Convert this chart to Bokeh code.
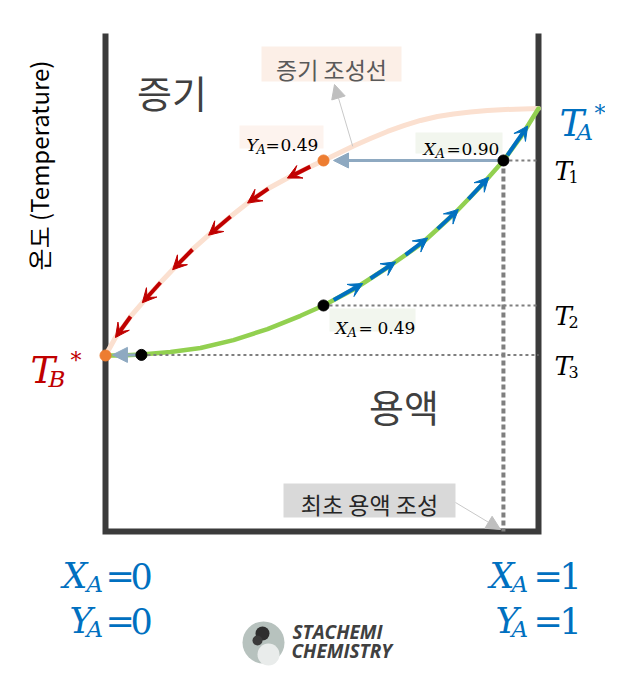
import numpy as np
from bokeh.plotting import figure
from bokeh.models import Range1d, ColumnDataSource, Arrow, VeeHead, NormalHead
from bokeh.core.properties import value
from bokeh.embed import file_html
from bokeh.resources import INLINE

# ---------------- data (composition X_A / Y_A, temperature in arbitrary units) ----------------
T_B_STAR = 60.0
T_A_STAR = 100.0
T1, T2, T3 = 91.58, 68.10, 60.10

# liquid (bubble-point) curve
liq_x = [0.0, 0.0346, 0.0831, 0.1501, 0.2194, 0.2956, 0.3741, 0.4503, 0.5035, 0.5727, 0.6513,
         0.7275, 0.8037, 0.8661, 0.9192, 0.9584, 1.0]
liq_T = [60.0, 60.0, 60.16, 60.57, 61.21, 62.49, 64.28, 66.43, 68.10, 70.69, 74.25,
         77.98, 82.84, 87.37, 91.58, 95.30, 100.0]

# vapour (dew-point) curve
vap_x = [0.0, 0.023, 0.058, 0.0855, 0.127, 0.162, 0.201, 0.2425, 0.289, 0.3326, 0.376, 0.4226,
         0.4688, 0.5035, 0.5727, 0.612, 0.6513, 0.6905, 0.7275, 0.7667, 0.8037, 0.843,
         0.8822, 0.9238, 1.0]
vap_T = [60.0, 62.91, 66.32, 68.58, 71.82, 74.41, 77.17, 79.76, 82.51, 84.94, 87.04, 88.83,
         90.45, 91.58, 93.93, 95.14, 96.28, 97.25, 98.06, 98.70, 99.11, 99.43,
         99.68, 99.84, 100.0]

# marked states
liq_dot_x = [0.919, 0.5035, 0.083]
liq_dot_T = [T1, T2, T3]
vap_dot_x = [0.5035, 0.0]
vap_dot_T = [T1, T_B_STAR]

# direction arrows along the curves (start composition -> tip composition)
red_start = [0.473, 0.376, 0.289, 0.201, 0.127, 0.058]
red_tip = [0.420, 0.328, 0.238, 0.155, 0.085, 0.023]
blue_start = [0.527, 0.612, 0.693, 0.767, 0.838, 0.928]
blue_tip = [0.594, 0.670, 0.744, 0.815, 0.885, 0.975]

# tie-line arrows (liquid -> vapour)
tie_start_x = [0.919, 0.083]
tie_tip_x = [0.5266, 0.016]
tie_T = [T1, T3]

label_x1 = "0.90"
label_x2 = "0.49"
label_y1 = "0.49"

# ---------------- layout ----------------
W, H = 605, 666
PXU_X = 433.0
PXU_Y = 247.0 / 40.0
X0PX, T0PX = 105.0, 355.0
xs = -X0PX / PXU_X
xe = xs + W / PXU_X
ye = T_B_STAR + T0PX / PXU_Y
ys = ye - H / PXU_Y


def X(px):
    return xs + px / PXU_X


def Y(py):
    return ye - py / PXU_Y


T_TOP = Y(33)
T_BOT = Y(531)

p = figure(width=W, height=H, x_range=Range1d(xs, xe), y_range=Range1d(ys, ye),
           output_backend="svg", toolbar_location=None, min_border=0,
           x_axis_location=None, y_axis_location=None, outline_line_color=None,
           background_fill_color="white", border_fill_color="white")
p.xgrid.visible = False
p.ygrid.visible = False

SERIF = "DejaVu Serif"
KR = "Noto Sans CJK KR"


def txt(xpx, ypx, text, size, color, font, style="normal", align="left",
        baseline="alphabetic", angle=0.0):
    return p.text(x=[X(xpx)], y=[Y(ypx)], text=[text], text_font=value(font),
                  text_font_size=f"{size}px", text_color=color, text_font_style=style,
                  text_align=align, text_baseline=baseline, angle=angle)


def box(l, r, t, b, color):
    p.quad(left=[X(l)], right=[X(r)], top=[Y(t)], bottom=[Y(b)],
           fill_color=color, line_color=None)


# frame (open at top)
p.line([0, 0, 1, 1], [T_TOP, T_BOT, T_BOT, T_TOP], line_color="#3B3B3B", line_width=6,
       line_join="miter")

# curves
p.line(vap_x, vap_T, line_color="#FBE0D0", line_width=5, line_cap="round", line_join="round")
p.line(liq_x, liq_T, line_color="#92D050", line_width=4.5, line_cap="round", line_join="round")

# dotted guides
p.segment(x0=liq_dot_x, y0=liq_dot_T, x1=[1, 1, 1], y1=liq_dot_T, line_color="#7F7F7F",
          line_width=2, line_dash="3 3")
p.segment(x0=[liq_dot_x[0]], y0=[T1], x1=[liq_dot_x[0]], y1=[T_BOT], line_color="#7F7F7F",
          line_width=4, line_dash="5 3")

# curve direction arrows
vx = np.array(vap_x); vT = np.array(vap_T)
lx = np.array(liq_x); lT = np.array(liq_T)
red_src = ColumnDataSource(dict(x0=red_start, y0=np.interp(red_start, vx, vT),
                                x1=red_tip, y1=np.interp(red_tip, vx, vT)))
blue_src = ColumnDataSource(dict(x0=blue_start, y0=np.interp(blue_start, lx, lT),
                                 x1=blue_tip, y1=np.interp(blue_tip, lx, lT)))
p.add_layout(Arrow(end=VeeHead(size=14, fill_color="#C00000", line_color="#C00000"),
                   x_start="x0", y_start="y0", x_end="x1", y_end="y1", source=red_src,
                   line_color="#C00000", line_width=4))
p.add_layout(Arrow(end=VeeHead(size=14, fill_color="#0070C0", line_color="#0070C0"),
                   x_start="x0", y_start="y0", x_end="x1", y_end="y1", source=blue_src,
                   line_color="#0070C0", line_width=4))

# tie-line arrows
tie_src = ColumnDataSource(dict(x0=tie_start_x, y0=tie_T, x1=tie_tip_x, y1=tie_T))
p.add_layout(Arrow(end=NormalHead(size=15, fill_color="#8EA9C1", line_color="#8EA9C1"),
                   x_start="x0", y_start="y0", x_end="x1", y_end="y1", source=tie_src,
                   line_color="#8EA9C1", line_width=3))

# callout arrows
c1x = 0.571
p.add_layout(Arrow(end=NormalHead(size=14, fill_color="#BFBFBF", line_color="#BFBFBF"),
                   x_start=c1x, y_start=float(np.interp(c1x, vx, vT)), x_end=X(334), y_end=Y(84),
                   line_color="#C9C9C9", line_width=1))
p.add_layout(Arrow(end=NormalHead(size=14, fill_color="#BFBFBF", line_color="#BFBFBF"),
                   x_start=X(455), y_start=Y(502), x_end=X(500), y_end=Y(529),
                   line_color="#C9C9C9", line_width=1))

# dots
r1 = p.scatter(liq_dot_x, liq_dot_T, size=11, fill_color="black", line_color="black")
r2 = p.scatter(vap_dot_x, vap_dot_T, size=11, fill_color="#ED7D31", line_color="#ED7D31")
r1.level = "overlay"
r2.level = "overlay"

# region labels
txt(171.5, 91, "증기", 38, "#404040", KR, align="center", baseline="middle")
txt(403.5, 405, "용액", 38, "#404040", KR, align="center", baseline="middle")

box(261, 401, 46, 81, "#FCEFE7")
txt(331, 68, "증기 조성선", 23, "#595959", KR, align="center", baseline="middle")
box(283, 455, 483, 517, "#D9D9D9")
txt(369, 503.5, "최초 용액 조성", 23, "#262626", KR, align="center", baseline="middle")

txt(38, 165, "온도 (Temperature)", 24, "black", KR, align="center", baseline="middle",
    angle=np.pi / 2)

# composition labels at points
box(239, 323, 125, 148, "#FDF3EE")
txt(246, 144, "Y", 17, "black", SERIF, "italic")
txt(256, 149, "A", 13, "black", SERIF, "italic")
txt(265, 144, "=", 17, "black", SERIF)
txt(280, 144, label_y1, 17, "black", SERIF)

box(415, 502, 132, 153, "#F2F6EE")
txt(423, 148, "X", 17, "black", SERIF, "italic")
txt(435, 153, "A", 13, "black", SERIF, "italic")
txt(446, 148, "=", 17, "black", SERIF)
txt(461, 148, label_x1, 17, "black", SERIF)

box(329, 415, 308, 331, "#F2F6EE")
txt(335, 327, "X", 17, "black", SERIF, "italic")
txt(347, 332, "A", 13, "black", SERIF, "italic")
txt(358, 327, "=", 17, "black", SERIF)
txt(377, 327, label_x2, 17, "black", SERIF)

# temperature labels
for yb, sub in [(170, "1"), (315, "2"), (365, "3")]:
    txt(554, yb, "T", 26, "black", SERIF, "italic")
    txt(568, yb + 6, sub, 16, "black", SERIF)

txt(559, 123, "T", 37, "#0070C0", SERIF, "italic")
txt(576, 131, "A", 23, "#0070C0", SERIF, "italic")
txt(594, 113, "*", 22, "#0070C0", SERIF)

txt(30, 370, "T", 37, "#C00000", SERIF, "italic")
txt(48, 378, "B", 23, "#C00000", SERIF, "italic")
txt(70, 360, "*", 22, "#C00000", SERIF)

# axis-end labels
BLUE = "#0070C0"
for xl, sym, yb in [(62, "X", 575), (69, "Y", 620)]:
    txt(xl, yb, sym, 35, BLUE, SERIF, "italic")
    txt(86, yb + 8, "A", 23, BLUE, SERIF, "italic")
    txt(105, yb, "=", 35, BLUE, SERIF)
    txt(130, yb, "0", 35, BLUE, SERIF)
for xl, sym, yb in [(489, "X", 575), (495, "Y", 620)]:
    txt(xl, yb, sym, 35, BLUE, SERIF, "italic")
    txt(511, yb + 8, "A", 23, BLUE, SERIF, "italic")
    txt(533, yb, "=", 35, BLUE, SERIF)
    txt(559, yb, "1", 35, BLUE, SERIF)

# logo
p.scatter([X(263)], [Y(642)], size=42, fill_color="#B7C2BE", line_color=None)
p.scatter([X(268)], [Y(654)], size=22, fill_color="#E9ECEB", line_color=None)
p.scatter([X(262)], [Y(633)], size=14, fill_color="#2E2E2E", line_color=None)
p.scatter([X(257)], [Y(640)], size=10, fill_color="#3A3A3A", line_color=None)
txt(292, 631.5, "STACHEMI", 19, "#404040", "Open Sans", "bold italic", baseline="middle")
txt(291, 650, "CHEMISTRY", 19, "#404040", "Open Sans", "bold italic", baseline="middle")

open("out.html", "w").write(file_html(p, INLINE))
